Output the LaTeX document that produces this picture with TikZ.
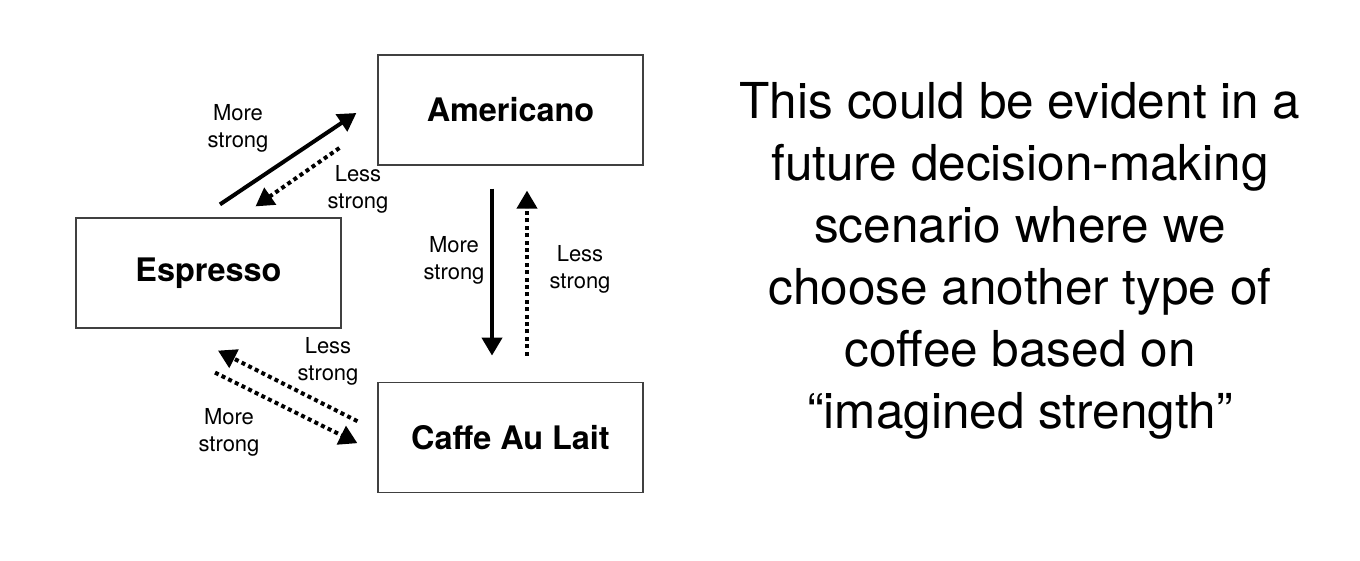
\documentclass[tikz,border=0pt]{standalone}
\usepackage{fontspec}
\setmainfont{TeX Gyre Heros}
\usetikzlibrary{arrows.meta, positioning}
\tikzstyle{drink} = [rectangle, minimum width=132.5pt, minimum height=55pt, text centered, draw=black!75, line width=0.6pt, font=\fontsize{16.2}{19}\selectfont\bfseries]
\tikzstyle{note} = [align=center, font=\fontsize{11}{13.5}\selectfont]
\tikzstyle{more} = [line width=2pt, -{Triangle[length=9pt,width=10pt]}]
\tikzstyle{less} = [more, dash pattern=on 2pt off 1.7pt]

\begin{document}
\begin{tikzpicture}[x=0.5pt, y=-0.5pt]
\useasboundingbox (0,0) rectangle (1360,561);

% --- Coffee boxes ---
\node (americano) [drink] at (510.5,110) {Americano};
\node (lait) [drink, below=108pt of americano] {Caffe Au Lait};
\node (espresso) [drink] at (208.5,273) {Espresso};

% --- Arrows ---
\draw [more] ([shift={(11.5,-13)}]espresso.north) -- ([shift={(-21,3)}]americano.west);
\draw [less] ([shift={(-38,38)}]americano.west) -- ([shift={(47,-11)}]espresso.north);
\draw [more] ([shift={(-18.5,23)}]americano.south) -- ([shift={(-18.5,-26)}]lait.north);
\draw [less] ([shift={(16.5,-26)}]lait.north) -- ([shift={(16.5,25)}]americano.south);
\draw [less] ([shift={(-20,-16)}]lait.west) -- ([shift={(9.5,22)}]espresso.south);
\draw [less] ([shift={(6.5,44)}]espresso.south) -- ([shift={(-20,6)}]lait.west);

% --- Labels ---
\node (upmore) [note] at (238,128) {More\\strong};
\node (upless) [note] at (358,189) {Less\\strong};
\node (downmore) [note] at (454,260) {More\\strong};
\node (downless) [note] at (580,269) {Less\\strong};
\node (lowless) [note] at (328,361) {Less\\strong};
\node (lowmore) [note] at (229,432) {More\\strong};

% --- Caption ---
\node (caption) [align=center, font=\fontsize{24.75}{31}\selectfont] at (1020,261) {This could be evident in a\\future decision-making\\scenario where we\\choose another type of\\coffee based on\\“imagined strength”};

\end{tikzpicture}
\end{document}
